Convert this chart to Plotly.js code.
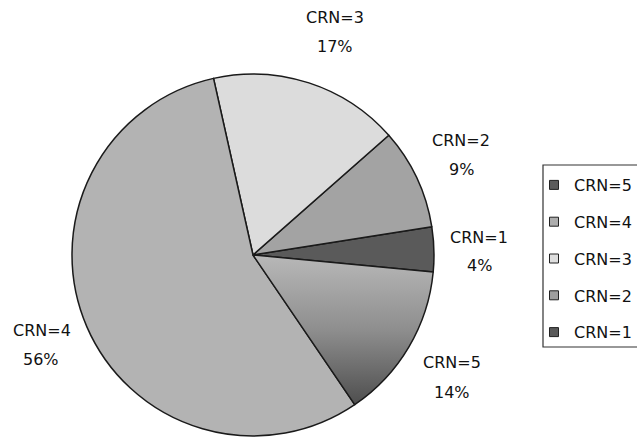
<!DOCTYPE html>
<html>
<head>
<meta charset="utf-8">
<script src="https://cdn.plot.ly/plotly-3.0.1.min.js"></script>
<style>
  html, body { margin: 0; padding: 0; background: #ffffff; }
  #chart { width: 637px; height: 437px; }
</style>
</head>
<body>
<div id="chart"></div>
<script>
// ---- data ----
const labels = ['CRN=1', 'CRN=2', 'CRN=3', 'CRN=4', 'CRN=5'];
const values = [4, 9, 17, 56, 14];
const legendOrder = ['CRN=5', 'CRN=4', 'CRN=3', 'CRN=2', 'CRN=1'];

// ---- styles ----
const sliceColors = ['#5a5a5a', '#a3a3a3', '#dcdcdc', '#b3b3b3', '#8c8c8c'];
const swatchColors = {'CRN=5': '#5c5c5c', 'CRN=4': '#adadad', 'CRN=3': '#dedede', 'CRN=2': '#9e9e9e', 'CRN=1': '#595959'};
// label anchor positions in pixels (name line, percent line)
const labelPos = {
  'CRN=1': [479, 237, 479, 265],
  'CRN=2': [461, 140, 461, 169],
  'CRN=3': [335, 18, 335, 46],
  'CRN=4': [42, 330, 41, 359],
  'CRN=5': [452, 362, 452, 392]
};
const W = 637, H = 437;
const px = x => x / W, py = y => 1 - y / H;
const fontFam = 'DejaVu Sans, Arial, sans-serif';

const pie = {
  type: 'pie',
  labels: labels,
  values: values,
  sort: false,
  direction: 'counterclockwise',
  rotation: 81,
  textinfo: 'none',
  hoverinfo: 'none',
  showlegend: false,
  marker: { colors: sliceColors, line: { color: '#1a1a1a', width: 1.5 } },
  domain: { x: [px(253 - 181), px(253 + 181)], y: [py(255 + 181), py(255 - 181)] }
};

const legendTraces = legendOrder.map(name => ({
  type: 'scatter',
  x: [null], y: [null],
  mode: 'markers',
  name: name,
  legendgroup: name,
  hoverinfo: 'none',
  marker: { symbol: 'square', size: 9, color: swatchColors[name], line: { color: '#222', width: 1 } }
}));

const annotations = [];
labels.forEach((lab, i) => {
  const p = labelPos[lab];
  annotations.push({ xref: 'paper', yref: 'paper', x: px(p[0]), y: py(p[1]), text: lab,
    showarrow: false, xanchor: 'center', yanchor: 'middle', font: { family: fontFam, size: 16, color: '#111' } });
  annotations.push({ xref: 'paper', yref: 'paper', x: px(p[2]), y: py(p[3]), text: values[i] + '%',
    showarrow: false, xanchor: 'center', yanchor: 'middle', font: { family: fontFam, size: 16, color: '#111' } });
});

const layout = {
  width: W, height: H,
  margin: { l: 0, r: 0, t: 0, b: 0, autoexpand: false },
  paper_bgcolor: '#ffffff',
  plot_bgcolor: '#ffffff',
  xaxis: { visible: false, domain: [0.99, 1] },
  yaxis: { visible: false, domain: [0.99, 1] },
  showlegend: true,
  legend: {
    x: px(534), y: py(168), xanchor: 'left', yanchor: 'top',
    bgcolor: 'rgba(0,0,0,0)', borderwidth: 0,
    font: { family: fontFam, size: 16, color: '#111' },
    tracegroupgap: 13,
    itemclick: false, itemdoubleclick: false
  },
  shapes: [{
    type: 'rect', xref: 'paper', yref: 'paper',
    x0: px(543), x1: px(660), y0: py(347), y1: py(165),
    line: { color: '#333', width: 1.2 }, fillcolor: 'rgba(0,0,0,0)', layer: 'below'
  }],
  annotations: annotations
};

Plotly.newPlot('chart', [pie].concat(legendTraces), layout, { staticPlot: true, displayModeBar: false }).then(gd => {
  // vertical gradient on the CRN=5 slice
  const svg = gd.querySelector('svg.main-svg');
  let defs = svg.querySelector('defs');
  const ns = 'http://www.w3.org/2000/svg';
  const grad = document.createElementNS(ns, 'linearGradient');
  grad.setAttribute('id', 'grad5');
  grad.setAttribute('x1', '0'); grad.setAttribute('y1', '0');
  grad.setAttribute('x2', '0'); grad.setAttribute('y2', '1');
  [['0', '#b8b8b8'], ['0.5', '#8e8e8e'], ['1', '#4e4e4e']].forEach(s => {
    const st = document.createElementNS(ns, 'stop');
    st.setAttribute('offset', s[0]); st.setAttribute('stop-color', s[1]);
    grad.appendChild(st);
  });
  defs.appendChild(grad);
  const paths = gd.querySelectorAll('g.slice path.surface');
  const idx = labels.indexOf('CRN=5');
  if (paths[idx]) paths[idx].style.fill = 'url(#grad5)';
});
</script>
</body>
</html>
